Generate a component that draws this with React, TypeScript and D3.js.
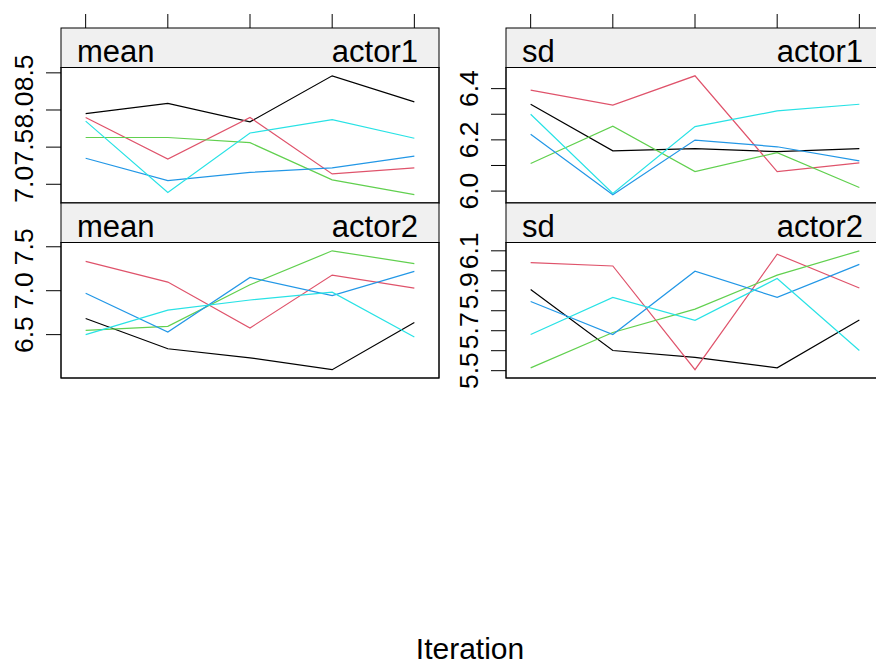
import * as d3 from "d3";
import { useEffect, useRef } from "react";

// chains in order: black, red, green, blue, cyan
const chainColors = ["#000000", "#DF536B", "#61D04F", "#2297E6", "#28E2E5"];
const iterations = [1, 2, 3, 4, 5];

const meanActor1 = [
  [7.95, 8.09, 7.84, 8.46, 8.11],
  [7.9, 7.34, 7.9, 7.14, 7.22],
  [7.63, 7.63, 7.56, 7.06, 6.86],
  [7.35, 7.05, 7.16, 7.22, 7.38],
  [7.85, 6.89, 7.69, 7.87, 7.62],
];
const sdActor1 = [
  [6.339, 6.157, 6.166, 6.154, 6.166],
  [6.394, 6.336, 6.45, 6.076, 6.11],
  [6.108, 6.253, 6.076, 6.15, 6.014],
  [6.222, 5.986, 6.199, 6.173, 6.118],
  [6.3, 5.991, 6.252, 6.313, 6.339],
];
const meanActor2 = [
  [6.684, 6.339, 6.236, 6.101, 6.638],
  [7.334, 7.098, 6.576, 7.178, 7.029],
  [6.549, 6.595, 7.067, 7.454, 7.308],
  [6.971, 6.53, 7.151, 6.944, 7.22],
  [6.5, 6.779, 6.894, 6.983, 6.472],
];
const sdActor2 = [
  [5.906, 5.601, 5.567, 5.514, 5.754],
  [6.041, 6.024, 5.505, 6.083, 5.914],
  [5.514, 5.691, 5.808, 5.978, 6.1],
  [5.846, 5.681, 5.998, 5.867, 6.032],
  [5.681, 5.867, 5.752, 5.961, 5.601],
];

const panels = [
  { stat: "mean", var: "actor1", data: meanActor1, col: 0, row: 0,
    ticks: [7.0, 7.5, 8.0, 8.5], labels: [7.0, 7.5, 8.0, 8.5] },
  { stat: "sd", var: "actor1", data: sdActor1, col: 1, row: 0,
    ticks: [6.0, 6.1, 6.2, 6.3, 6.4], labels: [6.0, 6.2, 6.4] },
  { stat: "mean", var: "actor2", data: meanActor2, col: 0, row: 1,
    ticks: [6.5, 7.0, 7.5], labels: [6.5, 7.0, 7.5] },
  { stat: "sd", var: "actor2", data: sdActor2, col: 1, row: 1,
    ticks: [5.5, 5.6, 5.7, 5.8, 5.9, 6.0, 6.1], labels: [5.5, 5.7, 5.9, 6.1] },
];

export default function App() {
  const ref = useRef<SVGSVGElement>(null);

  useEffect(() => {
    const svg = d3.select(ref.current);
    svg.selectAll("*").remove();

    const width = 876;
    const height = 664;
    const font = "'Liberation Sans', Arial, sans-serif";
    const colX = [61, 506];
    const panelW = 378;
    const top = 28;
    const stripH = 39.5;
    const panelH = 135.5;
    const rowH = stripH + panelH;

    svg.attr("width", width).attr("height", height);

    const x = d3.scaleLinear().domain([0.7, 5.3]).range([0, panelW]);
    const fmt = d3.format(".1f");

    panels.forEach(p => {
      const px = colX[p.col];
      const stripTop = top + p.row * rowH;
      const py = stripTop + stripH;

      const all = p.data.flat();
      const [lo, hi] = d3.extent(all) as [number, number];
      const pad = (hi - lo) * 0.07;
      const y = d3.scaleLinear().domain([lo - pad, hi + pad]).range([py + panelH, py]);

      // top iteration ticks
      if (p.row === 0) {
        svg.append("g")
          .selectAll("line")
          .data(iterations)
          .join("line")
          .attr("x1", d => px + x(d))
          .attr("x2", d => px + x(d))
          .attr("y1", top - 14)
          .attr("y2", top)
          .attr("stroke", "#000");
      }

      // strip
      svg.append("rect")
        .attr("x", px).attr("y", stripTop)
        .attr("width", panelW).attr("height", stripH)
        .attr("fill", "#f0f0f0").attr("stroke", "#000");
      svg.append("text")
        .attr("x", px + 16).attr("y", stripTop + 33.5)
        .attr("font-family", font).attr("font-size", 31)
        .text(p.stat);
      svg.append("text")
        .attr("x", px + panelW - 21).attr("y", stripTop + 33.5)
        .attr("text-anchor", "end")
        .attr("font-family", font).attr("font-size", 31)
        .text(p.var);

      // panel
      svg.append("rect")
        .attr("x", px).attr("y", py)
        .attr("width", panelW).attr("height", panelH)
        .attr("fill", "#fff").attr("stroke", "#000");

      // y ticks
      svg.append("g")
        .selectAll("line")
        .data(p.ticks)
        .join("line")
        .attr("x1", px - 15).attr("x2", px)
        .attr("y1", d => y(d)).attr("y2", d => y(d))
        .attr("stroke", "#000");
      svg.append("g")
        .selectAll("text")
        .data(p.labels)
        .join("text")
        .attr("transform", d => `translate(${px - 28},${y(d)}) rotate(-90)`)
        .attr("text-anchor", "middle")
        .attr("font-family", font).attr("font-size", 26.5)
        .text(d => fmt(d));

      // chain lines
      const line = d3.line<number>()
        .x((d, i) => px + x(iterations[i]))
        .y(d => y(d));

      const clipId = `clip-${p.col}-${p.row}`;
      svg.append("clipPath").attr("id", clipId)
        .append("rect")
        .attr("x", px).attr("y", py).attr("width", panelW).attr("height", panelH);

      svg.append("g")
        .attr("clip-path", `url(#${clipId})`)
        .selectAll("path")
        .data(p.data)
        .join("path")
        .attr("d", d => line(d))
        .attr("fill", "none")
        .attr("stroke", (d, i) => chainColors[i])
        .attr("stroke-width", 1.2);

      // redraw border on top
      svg.append("rect")
        .attr("x", px).attr("y", py)
        .attr("width", panelW).attr("height", panelH)
        .attr("fill", "none").attr("stroke", "#000");
    });

    svg.append("text")
      .attr("x", 470).attr("y", 659)
      .attr("text-anchor", "middle")
      .attr("font-family", font).attr("font-size", 30)
      .text("Iteration");
  }, []);

  return (
    <svg ref={ref} style={{ position: "absolute", left: 0, top: 0, display: "block" }}></svg>
  );
}
